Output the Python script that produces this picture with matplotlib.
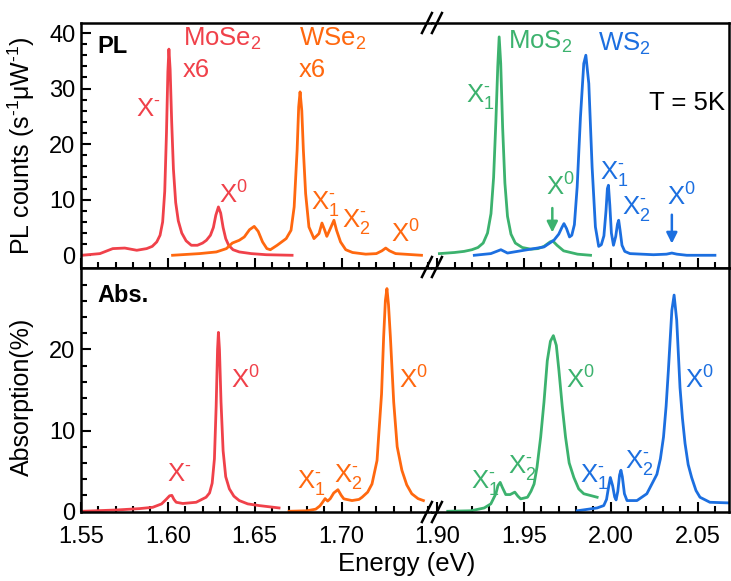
import matplotlib
matplotlib.use('Agg')
import matplotlib.pyplot as plt
from matplotlib.lines import Line2D
from matplotlib.ticker import FixedLocator, FormatStrFormatter

plt.rcParams['font.family'] = ['Liberation Sans', 'DejaVu Sans']
plt.rcParams['mathtext.fontset'] = 'custom'
plt.rcParams['mathtext.rm'] = 'Liberation Sans'
plt.rcParams['mathtext.it'] = 'Liberation Sans:italic'
plt.rcParams['mathtext.default'] = 'regular'

RED = '#f0414a'
ORANGE = '#ff680f'
GREEN = '#3cb26e'
BLUE = '#1c6fe0'

# ---- PL spectra (s^-1 uW^-1), MoSe2 and WSe2 already multiplied by 6
mose2_pl_e = [1.5506, 1.5609, 1.5683, 1.5752, 1.5821, 1.5878, 1.5910, 1.5936,
              1.5955, 1.5970, 1.5982, 1.5992, 1.6000, 1.6006, 1.6013, 1.6022,
              1.6032, 1.6045, 1.6060, 1.6080, 1.6105, 1.6135, 1.6170, 1.6200,
              1.6222, 1.6245, 1.6262, 1.6276, 1.6291, 1.6304, 1.6318, 1.6333,
              1.6350, 1.6375, 1.6411, 1.6480, 1.6566, 1.6715]
mose2_pl_y = [0.0, 0.3, 1.2, 1.3, 0.9, 1.2, 1.6, 2.4,
              3.6, 6.0, 11.5, 22.0, 33.0, 37.1, 33.5, 24.0,
              15.5, 9.5, 6.2, 4.0, 2.6, 1.8, 1.8, 2.2,
              2.7, 3.6, 5.0, 7.2, 8.7, 7.6, 5.0, 3.0,
              1.8, 1.0, 0.6, 0.3, 0.1, 0.0]

wse2_pl_e = [1.6027, 1.6182, 1.6279, 1.6337, 1.6371, 1.6411, 1.6440, 1.6470,
             1.6497, 1.6520, 1.6545, 1.6570, 1.6590, 1.6629, 1.6681, 1.6709,
             1.6727, 1.6744, 1.6753, 1.6761, 1.6771, 1.6780, 1.6793, 1.6812,
             1.6841, 1.6870, 1.6887, 1.6903, 1.6915, 1.6935, 1.6956, 1.6971,
             1.6994, 1.7024, 1.7063, 1.7139, 1.7200, 1.7232, 1.7254, 1.7276,
             1.7311, 1.7460]
wse2_pl_y = [0.0, 0.3, 0.6, 1.2, 2.2, 2.7, 3.3, 4.6,
             5.2, 4.3, 2.4, 1.2, 1.0, 1.8, 3.0, 4.5,
             8.7, 18.9, 26.7, 29.4, 26.0, 18.9, 11.1, 5.1,
             3.0, 3.9, 5.8, 4.5, 3.4, 4.8, 6.3, 4.5,
             2.4, 1.0, 0.5, 0.2, 0.3, 0.8, 1.3, 0.8,
             0.3, 0.0]

mos2_pl_e = [1.9013, 1.9100, 1.9155, 1.9200, 1.9235, 1.9265, 1.9290, 1.9310,
             1.9325, 1.9338, 1.9349, 1.9357, 1.9366, 1.9377, 1.9390, 1.9405,
             1.9425, 1.9450, 1.9490, 1.9539, 1.9580, 1.9615, 1.9650, 1.9665,
             1.9690, 1.9728, 1.9808, 1.9883]
mos2_pl_y = [0.3, 0.5, 0.7, 1.0, 1.4, 2.2, 4.0, 7.5,
             14.0, 24.0, 34.0, 39.3, 34.5, 23.0, 13.0, 7.0,
             3.8, 2.2, 1.4, 1.1, 1.2, 1.6, 2.4, 2.6,
             1.8, 0.8, 0.2, 0.0]

ws2_pl_e = [1.9214, 1.9309, 1.9367, 1.9405, 1.9481, 1.9558, 1.9615, 1.9672,
            1.9700, 1.9718, 1.9730, 1.9745, 1.9762, 1.9775, 1.9790, 1.9806,
            1.9825, 1.9844, 1.9856, 1.9873, 1.9892, 1.9911, 1.9930, 1.9945,
            1.9960, 1.9972, 1.9980, 1.9986, 1.9994, 2.0003, 2.0015, 2.0028,
            2.0038, 2.0045, 2.0053, 2.0064, 2.0080, 2.0110, 2.0245, 2.0320,
            2.0351, 2.0380, 2.0437, 2.0599]
ws2_pl_y = [0.0, 0.3, 1.0, 0.4, 0.8, 1.2, 1.5, 2.7,
            3.8, 5.0, 5.7, 4.8, 3.3, 3.6, 5.5, 12.3,
            24.9, 34.5, 36.0, 30.9, 15.9, 5.1, 1.6, 1.9,
            3.5, 8.0, 12.0, 12.6, 9.0, 4.0, 1.8, 3.4,
            5.6, 6.3, 4.5, 1.8, 0.7, 0.3, 0.1, 0.2,
            0.4, 0.2, 0.0, 0.0]

# ---- absorption spectra (%)
mose2_abs_e = [1.5506, 1.5706, 1.5838, 1.5913, 1.5964, 1.5990, 1.6010, 1.6023,
               1.6035, 1.6048, 1.6086, 1.6163, 1.6220, 1.6240, 1.6255, 1.6268,
               1.6278, 1.6286, 1.6291, 1.6297, 1.6306, 1.6318, 1.6333, 1.6354,
               1.6380, 1.6411, 1.6460, 1.6526, 1.6640]
mose2_abs_y = [0.04, 0.2, 0.37, 0.53, 0.95, 1.5, 1.95, 2.0,
               1.5, 1.15, 1.0, 1.15, 1.77, 2.3, 3.5, 6.5,
               13.0, 20.0, 22.1, 20.0, 13.5, 7.5, 4.3, 2.8,
               1.9, 1.36, 0.95, 0.74, 0.45]

wse2_abs_e = [1.6698, 1.6800, 1.6851, 1.6875, 1.6889, 1.6905, 1.6920, 1.6935,
              1.6955, 1.6979, 1.6998, 1.7013, 1.7060, 1.7100, 1.7118, 1.7150,
              1.7175, 1.7204, 1.7213, 1.7230, 1.7242, 1.7252, 1.7261, 1.7270,
              1.7281, 1.7300, 1.7320, 1.7347, 1.7375, 1.7404, 1.7440, 1.7471]
wse2_abs_y = [0.04, 0.1, 0.3, 0.7, 1.1, 1.6, 1.3, 1.6,
              2.3, 2.7, 2.0, 1.57, 1.36, 1.5, 1.77, 2.4,
              3.4, 6.3, 9.2, 14.5, 21.5, 26.0, 27.5, 25.5,
              21.5, 13.5, 8.0, 5.1, 3.3, 2.2, 1.6, 1.36]

mos2_abs_e = [1.9061, 1.9195, 1.9271, 1.9309, 1.9338, 1.9350, 1.9363, 1.9375,
              1.9395, 1.9420, 1.9447, 1.9465, 1.9481, 1.9520, 1.9540, 1.9558,
              1.9575, 1.9596, 1.9615, 1.9634, 1.9652, 1.9669, 1.9686, 1.9701,
              1.9720, 1.9739, 1.9760, 1.9787, 1.9815, 1.9844, 1.9921]
mos2_abs_y = [0.04, 0.1, 0.45, 0.95, 2.2, 3.2, 3.6, 3.0,
              2.1, 2.1, 2.4, 1.9, 1.57, 1.77, 2.5, 3.4,
              5.5, 9.2, 13.5, 18.6, 21.0, 21.7, 20.5, 17.4,
              13.0, 9.2, 6.0, 4.2, 2.8, 2.2, 1.77]

ws2_abs_e = [1.9806, 1.9921, 1.9959, 1.9975, 1.9985, 1.9997, 2.0010, 2.0022,
             2.0030, 2.0040, 2.0050, 2.0058, 2.0066, 2.0078, 2.0093, 2.0150,
             2.0207, 2.0265, 2.0285, 2.0303, 2.0318, 2.0331, 2.0351, 2.0364,
             2.0379, 2.0398, 2.0412, 2.0427, 2.0445, 2.0465, 2.0490, 2.0513,
             2.0570, 2.0681]
ws2_abs_y = [0.1, 0.45, 0.74, 1.5, 2.8, 4.2, 3.2, 1.8,
             1.44, 2.5, 4.5, 5.1, 4.3, 2.2, 1.36, 1.36,
             2.2, 4.6, 6.5, 9.2, 13.0, 17.4, 24.8, 26.7,
             23.6, 15.3, 11.5, 8.4, 5.8, 4.2, 2.6, 1.77,
             1.15, 1.07]

left_lim = (1.55, 1.752)
right_lim = (1.897, 2.068)

W, H = 731, 581
fig = plt.figure(figsize=(W / 100, H / 100), dpi=100)
gs = fig.add_gridspec(2, 2, left=81 / W, right=729 / W, top=1 - 23 / H, bottom=1 - 512 / H,
                      width_ratios=[left_lim[1] - left_lim[0], right_lim[1] - right_lim[0]],
                      hspace=0, wspace=0)
pl_l = fig.add_subplot(gs[0, 0])
pl_r = fig.add_subplot(gs[0, 1])
ab_l = fig.add_subplot(gs[1, 0])
ab_r = fig.add_subplot(gs[1, 1])

LW = 2.0
FS = 17      # tick labels
FL = 18      # axis labels
FA = 18.5    # annotations
MINUS = r'$^{\text{-}}$'

pl_l.plot(mose2_pl_e, mose2_pl_y, color=RED, lw=LW)
pl_l.plot(wse2_pl_e, wse2_pl_y, color=ORANGE, lw=LW)
pl_r.plot(mos2_pl_e, mos2_pl_y, color=GREEN, lw=LW)
pl_r.plot(ws2_pl_e, ws2_pl_y, color=BLUE, lw=LW)
ab_l.plot(mose2_abs_e, mose2_abs_y, color=RED, lw=LW)
ab_l.plot(wse2_abs_e, wse2_abs_y, color=ORANGE, lw=LW)
ab_r.plot(mos2_abs_e, mos2_abs_y, color=GREEN, lw=LW)
ab_r.plot(ws2_abs_e, ws2_abs_y, color=BLUE, lw=LW)

for ax in (pl_l, pl_r):
    ax.set_ylim(-2.2, 41.8)
for ax in (ab_l, ab_r):
    ax.set_ylim(-0.05, 30.1)
for ax in (pl_l, ab_l):
    ax.set_xlim(*left_lim)
    ax.spines['right'].set_visible(False)
    ax.xaxis.set_major_locator(FixedLocator([1.55, 1.60, 1.65, 1.70]))
    ax.xaxis.set_minor_locator(FixedLocator([1.55 + 0.01 * i for i in range(21)]))
for ax in (pl_r, ab_r):
    ax.set_xlim(*right_lim)
    ax.spines['left'].set_visible(False)
    ax.xaxis.set_major_locator(FixedLocator([1.90, 1.95, 2.00, 2.05]))
    ax.xaxis.set_minor_locator(FixedLocator([1.90 + 0.01 * i for i in range(17)]))
    ax.tick_params(axis='y', which='both', left=False, labelleft=False)

pl_l.yaxis.set_major_locator(FixedLocator([0, 10, 20, 30, 40]))
pl_l.yaxis.set_minor_locator(FixedLocator(list(range(2, 40, 2))))
ab_l.yaxis.set_major_locator(FixedLocator([0, 10, 20]))
ab_l.yaxis.set_minor_locator(FixedLocator(list(range(2, 30, 2))))

for ax in (pl_l, pl_r, ab_l, ab_r):
    for s in ax.spines.values():
        s.set_linewidth(1.8)
    ax.tick_params(which='both', direction='in', top=False, right=False, width=1.5,
                   labelsize=FS)
    ax.tick_params(which='major', length=7)
    ax.tick_params(which='minor', length=4)
    ax.tick_params(axis='x', pad=10)
    ax.tick_params(axis='y', pad=4)
    ax.xaxis.set_major_formatter(FormatStrFormatter('%.2f'))
for ax in (pl_l, pl_r):
    ax.tick_params(axis='x', which='both', labelbottom=False)

pl_l.set_ylabel(r'PL counts (s$^{\text{-}1}$μW$^{\text{-}1}$)', fontsize=FL)
pl_l.yaxis.set_label_coords(-0.125, 0.5)
ab_l.set_ylabel('Absorption(%)', fontsize=FL)
ab_l.yaxis.set_label_coords(-0.134, 0.47)
fig.text(407 / W, 1 - 564 / H, 'Energy (eV)', ha='center', va='center', fontsize=FL + 0.5)


def lab(ax, x, y, s, c, **kw):
    ax.text(x, y, s, color=c, fontsize=FA, va='center', **kw)


# ---- labels, top panel
pl_l.text(1.5592, 37.6, 'PL', fontsize=17, fontweight='bold', va='center')
lab(pl_l, 1.6085, 38.9, 'MoSe$_2$', RED)
lab(pl_l, 1.6085, 33.3, 'x6', RED)
lab(pl_l, 1.5960, 26.3, 'X' + MINUS, RED, ha='right')
lab(pl_l, 1.6297, 10.8, 'X$^0$', RED)
lab(pl_l, 1.6755, 38.9, 'WSe$_2$', ORANGE)
lab(pl_l, 1.6755, 33.3, 'x6', ORANGE)
lab(pl_l, 1.6824, 9.3, r'X$_1^{\text{-}}$', ORANGE)
lab(pl_l, 1.7001, 6.0, r'X$_2^{\text{-}}$', ORANGE)
lab(pl_l, 1.7282, 3.9, 'X$^0$', ORANGE)

lab(pl_r, 1.9407, 38.4, 'MoS$_2$', GREEN)
lab(pl_r, 1.9928, 38.1, 'WS$_2$', BLUE)
lab(pl_r, 1.9166, 28.5, r'X$_1^{\text{-}}$', GREEN)
lab(pl_r, 2.0656, 27.4, 'T = 5K', 'black', ha='right')
lab(pl_r, 1.9625, 12.3, 'X$^0$', GREEN)
lab(pl_r, 1.9940, 14.7, r'X$_1^{\text{-}}$', BLUE)
lab(pl_r, 2.0066, 8.4, r'X$_2^{\text{-}}$', BLUE)
lab(pl_r, 2.0324, 10.5, 'X$^0$', BLUE)
pl_r.annotate('', xy=(1.9663, 3.6), xytext=(1.9663, 9.0),
              arrowprops=dict(arrowstyle='-|>', color=GREEN, lw=1.8, mutation_scale=16))
pl_r.annotate('', xy=(2.0351, 1.6), xytext=(2.0351, 7.8),
              arrowprops=dict(arrowstyle='-|>', color=BLUE, lw=1.8, mutation_scale=16))

# ---- labels, bottom panel
ab_l.text(1.5597, 26.7, 'Abs.', fontsize=17, fontweight='bold', va='center')
lab(ab_l, 1.5993, 4.6, 'X' + MINUS, RED)
lab(ab_l, 1.6365, 16.2, 'X$^0$', RED)
lab(ab_l, 1.6744, 3.6, r'X$_1^{\text{-}}$', ORANGE)
lab(ab_l, 1.6956, 4.3, r'X$_2^{\text{-}}$', ORANGE)
lab(ab_l, 1.7328, 16.2, 'X$^0$', ORANGE)
lab(ab_r, 1.9195, 3.6, r'X$_1^{\text{-}}$', GREEN)
lab(ab_r, 1.9407, 5.4, r'X$_2^{\text{-}}$', GREEN)
lab(ab_r, 1.9740, 16.2, 'X$^0$', GREEN)
lab(ab_r, 1.9825, 4.3, r'X$_1^{\text{-}}$', BLUE)
lab(ab_r, 2.0083, 6.0, r'X$_2^{\text{-}}$', BLUE)
lab(ab_r, 2.0427, 16.2, 'X$^0$', BLUE)

# ---- axis break marks "//"
xc = 81 + 648 * (left_lim[1] - left_lim[0]) / (left_lim[1] - left_lim[0] + right_lim[1] - right_lim[0])
for yc in (23, 267, 512):
    for dx in (-5, 5):
        x0, x1 = xc + dx - 5, xc + dx + 5
        y0, y1 = yc + 10, yc - 10
        fig.add_artist(Line2D([x0 / W, x1 / W], [1 - y0 / H, 1 - y1 / H],
                              color='black', lw=1.8, transform=fig.transFigure))

fig.savefig('out.png', dpi=100)
